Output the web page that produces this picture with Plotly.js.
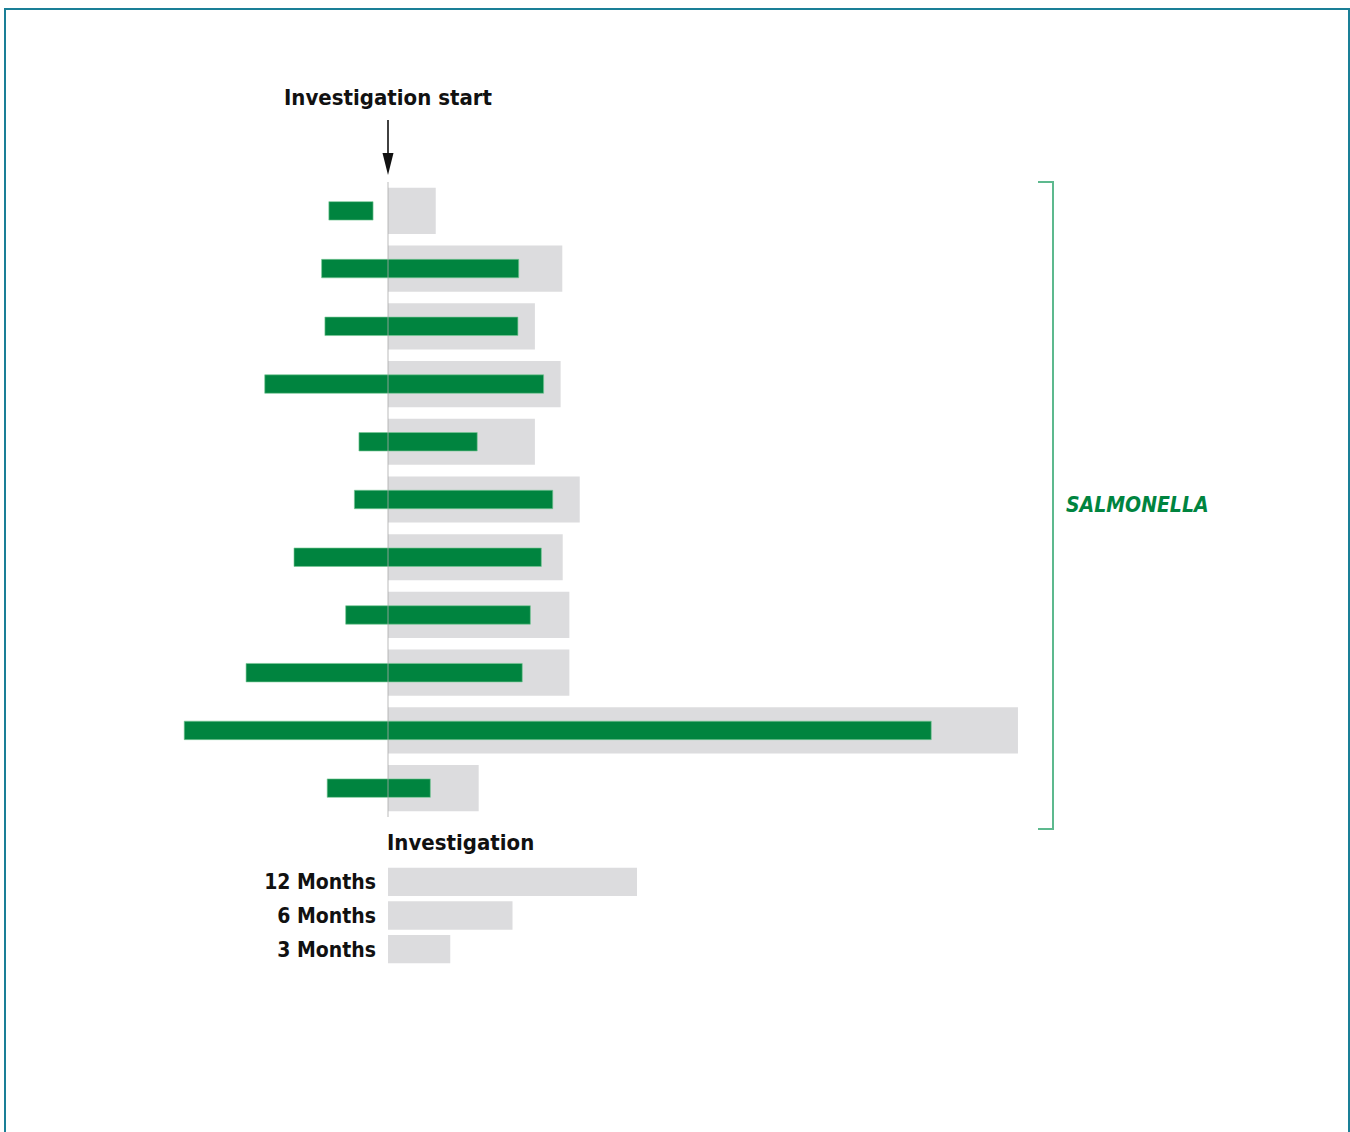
<!DOCTYPE html>
<html>
<head>
<meta charset="utf-8">
<script src="https://cdn.plot.ly/plotly-3.0.1.min.js"></script>
<style>
  html, body { margin: 0; padding: 0; background: #fff; }
  #chart { width: 1350px; height: 1132px; }
  #frame { position: absolute; left: 4px; top: 8px; width: 1342px; height: 1140px;
           border-top: 2px solid #1a7f97; border-left: 2px solid #1a7f97; border-right: 2px solid #1a7f97;
           pointer-events: none; }
</style>
</head>
<body>
<div id="chart"></div>
<div id="frame"></div>
<script>
// ---- data (months relative to investigation start) ----
const outbreaks = [1, 2, 3, 4, 5, 6, 7, 8, 9, 10, 11];
const investigationLength = [2.3, 8.4, 7.08, 8.32, 7.08, 9.24, 8.42, 8.74, 8.74, 30.36, 4.37];
const illnessStart = [-2.85, -3.2, -3.04, -5.94, -1.4, -1.62, -4.53, -2.04, -6.84, -9.82, -2.93];
const illnessEnd = [-0.72, 6.3, 6.26, 7.5, 4.3, 7.94, 7.39, 6.86, 6.47, 26.18, 2.04];
const legendLabels = ["12 Months", "6 Months", "3 Months"];
const legendMonths = [12, 6, 3];
const groupLabel = "SALMONELLA";

// ---- layout geometry (pixels) ----
const W = 1350, H = 1132;
const L = 139, R = 1135;          // plot area left/right
const T = 182, B = 966;           // plot area top/bottom
const pw = R - L, ph = B - T;
const px = x => (x - L) / pw;      // pixel -> paper x
const py = y => (B - y) / ph;      // pixel -> paper y

const FONT = "'Liberation Sans Narrow', 'DejaVu Sans Condensed', 'Arial Narrow', sans-serif";
const GREEN = "#00843f";
const GREY = "#dcdcde";

const traces = [
  {
    type: "bar", orientation: "h",
    y: outbreaks, x: investigationLength, base: 0,
    width: 0.8,
    marker: { color: GREY, line: { width: 0 } },
    xaxis: "x", yaxis: "y", hoverinfo: "skip", showlegend: false
  },
  {
    type: "bar", orientation: "h",
    y: outbreaks,
    x: illnessEnd.map((e, i) => e - illnessStart[i]),
    base: illnessStart,
    width: 0.32,
    marker: { color: GREEN, line: { width: 0.8, color: "rgba(120,200,150,0.8)" } },
    xaxis: "x", yaxis: "y", hoverinfo: "skip", showlegend: false
  },
  {
    type: "bar", orientation: "h",
    y: legendLabels, x: legendMonths, base: 0,
    width: 0.84,
    marker: { color: GREY, line: { width: 0 } },
    xaxis: "x2", yaxis: "y2", hoverinfo: "skip", showlegend: false
  }
];

const monthPx = 20.75;
const xMin = -(388 - L) / monthPx;
const xMax = xMin + pw / monthPx;
const x2Dom = (388 - L) / pw;

const layout = {
  width: W, height: H,
  margin: { l: L, r: W - R, t: T, b: H - B, pad: 0 },
  paper_bgcolor: "rgba(0,0,0,0)", plot_bgcolor: "rgba(0,0,0,0)",
  barmode: "overlay",
  showlegend: false,
  font: { family: FONT, color: "#111" },
  xaxis: { domain: [0, 1], range: [xMin, xMax], showgrid: false, zeroline: false,
           showticklabels: false, showline: false, ticks: "", fixedrange: true },
  yaxis: { domain: [py(817), 1], range: [11.5, 0.5], showgrid: false, zeroline: false,
           showticklabels: false, showline: false, ticks: "", fixedrange: true },
  xaxis2: { domain: [x2Dom, 1], range: [0, xMax], anchor: "y2", showgrid: false, zeroline: false,
            showticklabels: false, showline: false, ticks: "", fixedrange: true },
  yaxis2: { domain: [0, py(865)], anchor: "x2", type: "category", autorange: "reversed",
            showgrid: false, zeroline: false, showline: false, ticks: "",
            ticklabelstandoff: 11,
            tickfont: { family: FONT, size: 21, color: "#111", weight: "bold" }, fixedrange: true },
  shapes: [
    { type: "line", xref: "x", yref: "y", x0: 0, x1: 0, y0: 0.5, y1: 11.5,
      line: { color: "rgba(170,170,170,0.8)", width: 1 }, layer: "above" },
    { type: "path", xref: "paper", yref: "paper",
      path: `M ${px(1038)} ${py(182)} L ${px(1053)} ${py(182)} L ${px(1053)} ${py(829)} L ${px(1038)} ${py(829)}`,
      line: { color: "#5db98e", width: 2 } },
    // arrow shaft + narrow head pointing at investigation start
    { type: "line", xref: "paper", yref: "paper", x0: px(388), x1: px(388), y0: py(120), y1: py(158),
      line: { color: "#111", width: 1.6 } },
    { type: "path", xref: "paper", yref: "paper",
      path: `M ${px(382.5)} ${py(153)} L ${px(393.5)} ${py(153)} L ${px(388)} ${py(175)} Z`,
      fillcolor: "#111", line: { width: 0 } }
  ],
  annotations: [
    { text: "Investigation start", xref: "x", x: 0, yref: "paper", y: py(98),
      xanchor: "center", yanchor: "middle", showarrow: false,
      font: { family: FONT, size: 22, color: "#111", weight: "bold" } },
    { text: "Investigation", xref: "x", x: 0, yref: "paper", y: py(842),
      xanchor: "left", yanchor: "middle", showarrow: false, xshift: -3,
      font: { family: FONT, size: 22, color: "#111", weight: "bold" } },
    { text: groupLabel, xref: "paper", x: px(1064), yref: "paper", y: py(505),
      xanchor: "left", yanchor: "middle", showarrow: false,
      font: { family: FONT, size: 21, color: GREEN, style: "italic", weight: "bold" } }
  ]
};

Plotly.newPlot("chart", traces, layout, { staticPlot: true, displayModeBar: false });
</script>
</body>
</html>
